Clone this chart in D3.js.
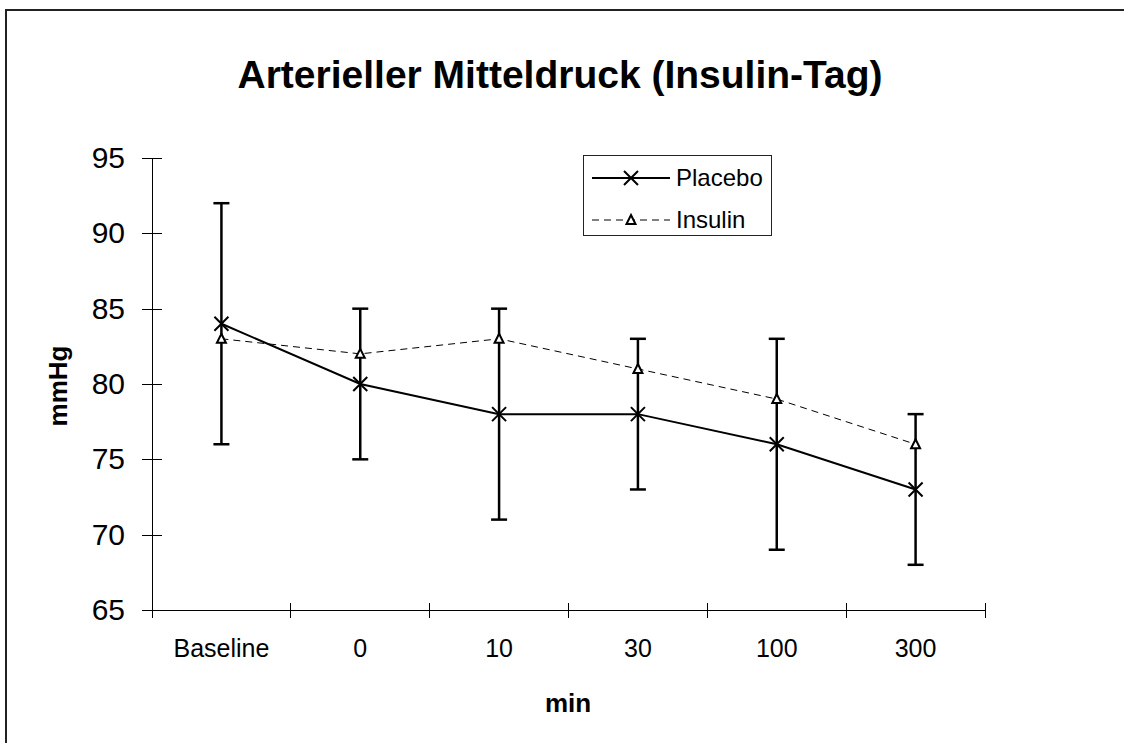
<!DOCTYPE html>
<html>
<head>
  <meta charset="UTF-8">
  <title>Arterieller Mitteldruck</title>
  <style type="text/css">
    body { margin: 0; background: #fff; }
    svg { display: block; font-family: Arial, "Liberation Sans", sans-serif; }
    .axis path, .axis line { stroke: #000; stroke-width: 1px; shape-rendering: crispEdges; }
    .axis text { fill: #000; }
  </style>
</head>
<body>
  <div class="svg-zone"></div>
  <script src="https://cdn.jsdelivr.net/npm/d3@7"></script>
  <script type="text/javascript">
    var categories = ["Baseline", "0", "10", "30", "100", "300"];
    var placebo = [84, 80, 78, 78, 76, 73];
    var placeboErr = [8, 5, 7, 5, 7, 5];
    var insulin = [83, 82, 83, 81, 79, 76];
    var yTicks = [65, 70, 75, 80, 85, 90, 95];

    var width = 1124,
      height = 743;

    var svg = d3.select(".svg-zone").append("svg")
      .attr("width", width)
      .attr("height", height);

    // outer frame (runs off the right and bottom edge)
    svg.append("rect")
      .attr("x", 6).attr("y", 10)
      .attr("width", 1140).attr("height", 760)
      .attr("fill", "none")
      .attr("stroke", "#222")
      .attr("stroke-width", 2);

    var x = d3.scaleBand()
      .domain(categories)
      .range([152, 985]);

    var y = d3.scaleLinear()
      .domain([65, 95])
      .range([610, 158]);

    function cx(d, i) { return x(categories[i]) + x.bandwidth() / 2; }

    // title
    svg.append("text")
      .attr("x", 560).attr("y", 88)
      .attr("text-anchor", "middle")
      .style("font-size", "39px")
      .style("font-weight", "bold")
      .text("Arterieller Mitteldruck (Insulin-Tag)");

    // y axis
    var gy = svg.append("g")
      .attr("class", "axis")
      .attr("transform", "translate(152,0)")
      .call(d3.axisLeft(y).tickValues(yTicks).tickSize(10).tickPadding(17));
    gy.select(".domain").attr("d", "M0," + y(95) + "V" + y(65));
    gy.selectAll(".tick line").attr("x1", -10).attr("x2", 10);
    gy.selectAll(".tick text").style("font-size", "30px");

    // x axis
    var gx = svg.append("g")
      .attr("class", "axis")
      .attr("transform", "translate(0,610)");
    gx.append("line")
      .attr("x1", x.range()[0]).attr("x2", x.range()[1]);
    var bounds = categories.map(function (c) { return x(c); }).concat([x.range()[1]]);
    gx.selectAll(".xt").data(bounds).enter().append("line")
      .attr("x1", function (d) { return d; })
      .attr("x2", function (d) { return d; })
      .attr("y1", -7).attr("y2", 8);
    gx.selectAll(".xl").data(categories).enter().append("text")
      .attr("x", function (d) { return x(d) + x.bandwidth() / 2; })
      .attr("y", 47)
      .attr("text-anchor", "middle")
      .style("font-size", "25px")
      .text(function (d) { return d; });

    // axis titles
    svg.append("text")
      .attr("x", 568).attr("y", 712)
      .attr("text-anchor", "middle")
      .style("font-size", "26px")
      .style("font-weight", "bold")
      .text("min");

    svg.append("text")
      .attr("transform", "translate(67,386) rotate(-90)")
      .attr("text-anchor", "middle")
      .style("font-size", "26px")
      .style("font-weight", "bold")
      .text("mmHg");

    // insulin dashed line
    var lineIns = d3.line()
      .x(cx)
      .y(function (d) { return y(d); });
    svg.append("path")
      .datum(insulin)
      .attr("d", lineIns)
      .attr("fill", "none")
      .attr("stroke", "#000")
      .attr("stroke-width", 1)
      .attr("stroke-dasharray", "7,5");

    // error bars
    var eb = svg.selectAll(".err").data(placebo).enter().append("g")
      .attr("stroke", "#000")
      .attr("stroke-width", 2.5);
    eb.append("line")
      .attr("x1", cx).attr("x2", cx)
      .attr("y1", function (d, i) { return y(d + placeboErr[i]); })
      .attr("y2", function (d, i) { return y(d - placeboErr[i]); });
    eb.append("line")
      .attr("x1", function (d, i) { return cx(d, i) - 8; })
      .attr("x2", function (d, i) { return cx(d, i) + 8; })
      .attr("y1", function (d, i) { return y(d + placeboErr[i]); })
      .attr("y2", function (d, i) { return y(d + placeboErr[i]); });
    eb.append("line")
      .attr("x1", function (d, i) { return cx(d, i) - 8; })
      .attr("x2", function (d, i) { return cx(d, i) + 8; })
      .attr("y1", function (d, i) { return y(d - placeboErr[i]); })
      .attr("y2", function (d, i) { return y(d - placeboErr[i]); });

    // placebo solid line
    svg.append("path")
      .datum(placebo)
      .attr("d", lineIns)
      .attr("fill", "none")
      .attr("stroke", "#000")
      .attr("stroke-width", 2);

    function cross(g, px, py) {
      g.append("path")
        .attr("d", "M" + (px - 7) + "," + (py - 7) + "L" + (px + 7) + "," + (py + 7) +
          "M" + (px - 7) + "," + (py + 7) + "L" + (px + 7) + "," + (py - 7))
        .attr("stroke", "#000")
        .attr("stroke-width", 2)
        .attr("fill", "none");
    }

    function tri(g, px, py) {
      g.append("path")
        .attr("d", "M" + px + "," + (py - 5) + "L" + (px + 4.5) + "," + (py + 4) + "L" + (px - 4.5) + "," + (py + 4) + "Z")
        .attr("stroke", "#000")
        .attr("stroke-width", 2)
        .attr("fill", "#fff");
    }

    insulin.forEach(function (d, i) { tri(svg, cx(d, i), y(d)); });
    placebo.forEach(function (d, i) { cross(svg, cx(d, i), y(d)); });

    // legend
    var lg = svg.append("g");
    lg.append("rect")
      .attr("x", 583.5).attr("y", 155.5)
      .attr("width", 188).attr("height", 80)
      .attr("fill", "#fff")
      .attr("stroke", "#222")
      .attr("stroke-width", 1);
    lg.append("line")
      .attr("x1", 592).attr("x2", 670).attr("y1", 178).attr("y2", 178)
      .attr("stroke", "#000").attr("stroke-width", 2);
    cross(lg, 631, 178);
    lg.append("text")
      .attr("x", 676).attr("y", 186)
      .style("font-size", "24px")
      .text("Placebo");
    lg.append("line")
      .attr("x1", 592).attr("x2", 670).attr("y1", 220).attr("y2", 220)
      .attr("stroke", "#000").attr("stroke-width", 1)
      .attr("stroke-dasharray", "7,5");
    tri(lg, 631, 220);
    lg.append("text")
      .attr("x", 676).attr("y", 228)
      .style("font-size", "24px")
      .text("Insulin");
  </script>
</body>
</html>
